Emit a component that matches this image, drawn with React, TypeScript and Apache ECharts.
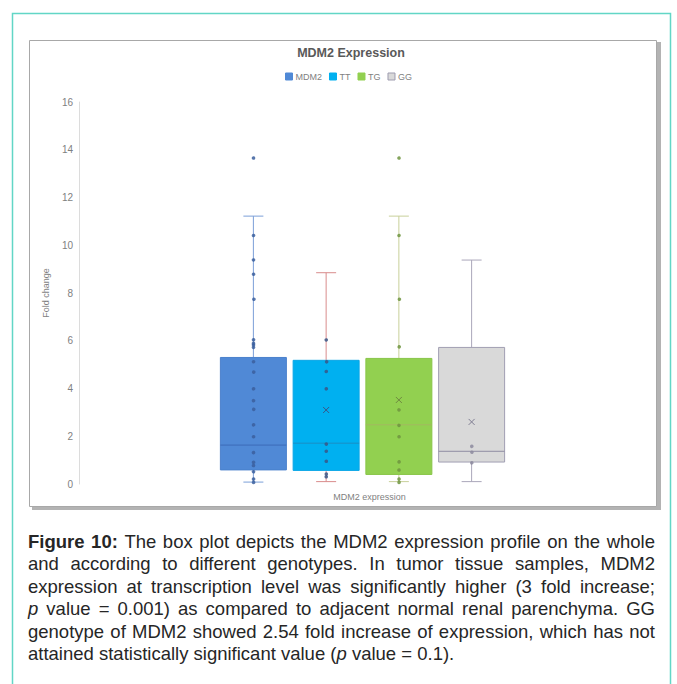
import React, { useEffect, useRef } from "react";
import * as echarts from "echarts";

// ---------- data ----------
const categories = ["MDM2 expression"];
const groups = ["MDM2", "TT", "TG", "GG"];
const minValues = [0.08, 0.1, 0.1, 0.1];
const q1Values = [0.59, 0.57, 0.4, 0.92];
const medianValues = [1.63, 1.71, 2.48, 1.37];
const q3Values = [5.3, 5.18, 5.26, 5.72];
const maxValues = [11.22, 8.85, 11.22, 9.38];
const meanValues: (number | null)[] = [null, 3.1, 3.52, 2.6];
const mdm2Points = [13.68, 10.44, 9.41, 8.82, 7.79, 6.07, 5.92, 5.85, 5.75, 5.15, 4.73, 4.02, 3.52, 3.17, 2.51, 2.01, 1.34, 0.94, 0.8, 0.54, 0.24, 0.1];
const ttPoints = [6.06, 5.17, 4.74, 4.02, 1.7, 1.4, 0.98, 0.45, 0.33];
const tgPoints = [13.68, 10.44, 7.79, 5.79, 3.13, 2.48, 2.01, 0.96, 0.61, 0.24, 0.1];
const ggPoints = [1.61, 1.37, 0.92];
const pointSets = [mdm2Points, ttPoints, tgPoints, ggPoints];

const yMin = 0;
const yMax = 16;
const yInterval = 2;

const chartTitle = "MDM2 Expression";
const yAxisTitle = "Fold change";

const captionLines = [
  "*Figure* *10:* The box plot depicts the MDM2 expression profile on the whole",
  "and according to different genotypes. In tumor tissue samples, MDM2",
  "expression at transcription level was significantly higher (3 fold increase;",
  "_p_ value = 0.001) as compared to adjacent normal renal parenchyma. GG",
  "genotype of MDM2 showed 2.54 fold increase of expression, which has not",
  "attained statistically significant value (_p_ value = 0.1).",
];

// ---------- styles ----------
const boxFill = ["#5089d6", "#00b0f0", "#92d050", "#d9d9d9"];
const boxBorder = ["#4a80cc", "#0aa6e6", "#88c548", "#a09eb2"];
const whiskerColors = ["#7b9fd8", "#d98c8c", "#c8d09a", "#aaa7ba"];
const medianColors = ["#3d6cb8", "#1a8fc4", "#a3b860", "#8f8da2"];
const pointColors = ["#3b5f9e", "#3a5686", "#6f9440", "#8c8a9e"];
const meanColors = ["#3b5f9e", "#3a5686", "#6f8a40", "#7f7d92"];

const FONT = "Liberation Sans";
const SPACING = 0.1283;
const BOX_RATIO = 0.1164;
const CAP_HALF = 10;

function boxSeries(i: number): any {
  return {
    type: "custom",
    name: groups[i],
    itemStyle: { color: boxFill[i] },
    data: [[0, minValues[i], q1Values[i], medianValues[i], q3Values[i], maxValues[i], meanValues[i] ?? NaN]],
    encode: { x: 0, y: [1, 2, 3, 4, 5] },
    renderItem: (params: any, api: any) => {
      const base = api.coord([api.value(0), 0]);
      const band = api.size([1, 0])[0];
      const cx = base[0] + (i - (groups.length - 1) / 2) * band * SPACING;
      const hw = (band * BOX_RATIO) / 2;
      const y = (d: number) => api.coord([api.value(0), api.value(d)])[1];
      const yLo = y(1), yQ1 = y(2), yMed = y(3), yQ3 = y(4), yHi = y(5);
      const meanV = api.value(6);
      const ws = { stroke: whiskerColors[i], lineWidth: 1 };
      const m = 3;
      const ms = { stroke: meanColors[i], lineWidth: 1 };
      const children: any[] = [
        { type: "line", shape: { x1: cx, y1: yQ3, x2: cx, y2: yHi }, style: ws },
        { type: "line", shape: { x1: cx - CAP_HALF, y1: yHi, x2: cx + CAP_HALF, y2: yHi }, style: ws },
        { type: "line", shape: { x1: cx, y1: yQ1, x2: cx, y2: yLo }, style: ws },
        { type: "line", shape: { x1: cx - CAP_HALF, y1: yLo, x2: cx + CAP_HALF, y2: yLo }, style: ws },
        {
          type: "rect",
          shape: { x: cx - hw, y: yQ3, width: 2 * hw, height: yQ1 - yQ3 },
          style: { fill: boxFill[i], stroke: boxBorder[i], lineWidth: 1 },
        },
        { type: "line", shape: { x1: cx - hw, y1: yMed, x2: cx + hw, y2: yMed }, style: { stroke: medianColors[i], lineWidth: 1 } },
      ];
      if (meanV != null && !isNaN(meanV)) {
        const yMean = y(6);
        children.push(
          { type: "line", shape: { x1: cx - m, y1: yMean - m, x2: cx + m, y2: yMean + m }, style: ms },
          { type: "line", shape: { x1: cx - m, y1: yMean + m, x2: cx + m, y2: yMean - m }, style: ms }
        );
      }
      return { type: "group", children };
    },
  };
}

function pointSeries(i: number): any {
  return {
    type: "custom",
    name: groups[i] + " points",
    data: pointSets[i].map((v) => [0, v]),
    encode: { x: 0, y: 1 },
    renderItem: (params: any, api: any) => {
      const p = api.coord([api.value(0), api.value(1)]);
      const band = api.size([1, 0])[0];
      const cx = p[0] + (i - (groups.length - 1) / 2) * band * SPACING;
      return {
        type: "circle",
        shape: { cx, cy: p[1], r: 1.8 },
        style: { fill: pointColors[i], opacity: 0.85 },
      };
    },
  };
}

function captionGraphics(): any[] {
  const canvas = document.createElement("canvas");
  const ctx = canvas.getContext("2d")!;
  const size = 18.5;
  const fontFor = (st: string) =>
    `${st === "i" ? "italic " : ""}${st === "b" ? "bold " : ""}${size}px "${FONT}"`;
  const measure = (t: string, st: string) => {
    ctx.font = fontFor(st);
    return ctx.measureText(t).width;
  };
  const left = 28;
  const right = 655;
  const top = 541.5;
  const lh = 22.45;
  const out: any[] = [];
  captionLines.forEach((line, li) => {
    const words = line.split(" ").map((w) => {
      const segs: { t: string; st: string }[] = [];
      const re = /\*([^*]+)\*|_([^_]+)_|([^*_]+)/g;
      let mm: RegExpExecArray | null;
      while ((mm = re.exec(w))) {
        if (mm[1]) segs.push({ t: mm[1], st: "b" });
        else if (mm[2]) segs.push({ t: mm[2], st: "i" });
        else segs.push({ t: mm[3], st: "r" });
      }
      const width = segs.reduce((s, g) => s + measure(g.t, g.st), 0);
      return { segs, width };
    });
    const total = words.reduce((s, w) => s + w.width, 0);
    const last = li === captionLines.length - 1;
    const gap = last ? measure(" ", "r") : (right - left - total) / (words.length - 1);
    let x = left;
    const yy = top + li * lh;
    words.forEach((w) => {
      let sx = x;
      w.segs.forEach((g) => {
        out.push({
          type: "text",
          x: sx,
          y: yy,
          style: {
            text: g.t,
            fill: "#262626",
            fontSize: size,
            fontFamily: FONT,
            fontWeight: g.st === "b" ? "bold" : "normal",
            fontStyle: g.st === "i" ? "italic" : "normal",
            align: "left",
            verticalAlign: "middle",
          },
        });
        sx += measure(g.t, g.st);
      });
      x += w.width + gap;
    });
  });
  return out;
}

export default function App() {
  const ref = useRef<HTMLDivElement>(null);
  useEffect(() => {
    const el = ref.current!;
    const chart = echarts.init(el, undefined, { renderer: "svg" });
    const series: any[] = [];
    groups.forEach((_, i) => series.push(boxSeries(i)));
    groups.forEach((_, i) => series.push(pointSeries(i)));
    const option: any = {
      animation: false,
      backgroundColor: "#ffffff",
      title: {
        text: chartTitle,
        left: 346,
        top: 41,
        textAlign: "center",
        textStyle: { color: "#595959", fontSize: 12.5, fontWeight: "bold", fontFamily: FONT },
      },
      legend: {
        data: groups.map((g, i) => ({
          name: g,
          icon: "rect",
          itemStyle: { color: boxFill[i], borderColor: i === 3 ? "#9f9db0" : boxFill[i], borderWidth: 1 },
        })),
        left: 280,
        top: 67,
        itemWidth: 7,
        itemHeight: 7,
        itemGap: 7,
        textStyle: { color: "#7f7f7f", fontSize: 9, fontFamily: FONT, padding: [0, 0, 0, -2] },
        selectedMode: false,
      },
      grid: { left: 79, right: 31, top: 102, bottom: 200, containLabel: false },
      xAxis: {
        type: "category",
        data: categories,
        axisLine: { show: false },
        axisTick: { show: false },
        splitLine: { show: false },
        axisLabel: { color: "#7f7f7f", fontSize: 9, fontFamily: FONT, margin: 8, padding: [0, 0, 0, 14] },
      },
      yAxis: {
        type: "value",
        min: yMin,
        max: yMax,
        interval: yInterval,
        name: yAxisTitle,
        nameLocation: "middle",
        nameGap: 26,
        nameTextStyle: { color: "#7f7f7f", fontSize: 9, fontFamily: FONT },
        axisLine: { show: true, lineStyle: { color: "#dcdcdc", width: 1 } },
        axisTick: { show: false },
        splitLine: { show: false },
        axisLabel: { color: "#7f7f7f", fontSize: 10, fontFamily: FONT, margin: 6 },
      },
      graphic: [
        {
          type: "rect",
          z: -10,
          shape: { x: 12.5, y: 13.5, width: 658, height: 700 },
          style: { fill: "#ffffff", stroke: "#62d6c6", lineWidth: 1.5 },
        },
        {
          type: "rect",
          z: -9,
          shape: { x: 32, y: 42, width: 629, height: 468 },
          style: { fill: "#b3b3b3" },
        },
        {
          type: "rect",
          z: -8,
          shape: { x: 29.5, y: 40.5, width: 627, height: 466 },
          style: { fill: "#ffffff", stroke: "#a8a8a8", lineWidth: 1 },
        },
        ...captionGraphics(),
      ],
      series,
    };
    chart.setOption(option);
    return () => chart.dispose();
  }, []);
  return <div ref={ref} style={{ position: "absolute", left: 0, top: 0, width: 677, height: 684 }} />;
}
